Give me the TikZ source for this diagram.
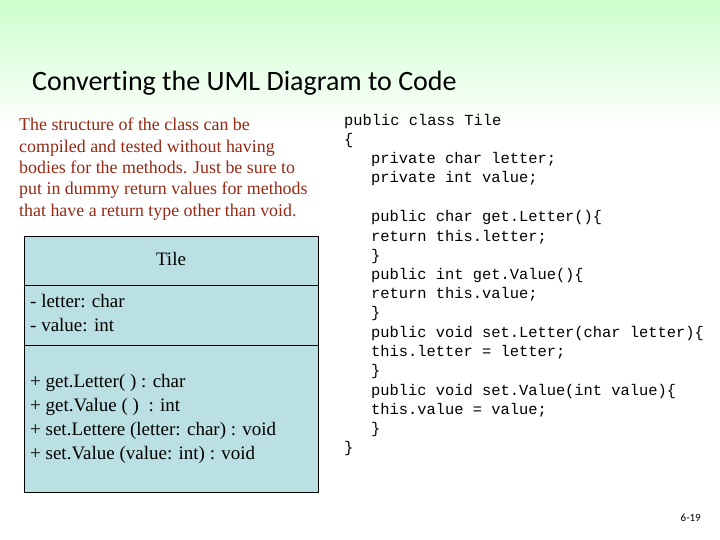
\documentclass[tikz,border=0pt]{standalone}
\usepackage{fontspec}
\setmainfont{Liberation Serif}
\setmonofont{Liberation Mono}
\newfontfamily\titlefont[Ligatures=NoCommon]{Carlito}
\usetikzlibrary{positioning}
\definecolor{bodyred}{RGB}{150,40,20}
\definecolor{umlfill}{RGB}{187,224,227}
\definecolor{topgreen}{RGB}{204,255,204}
\begin{document}
\begin{tikzpicture}[x=1pt,y=-1pt,
    code/.style={anchor=base west, font=\ttfamily\fontsize{15.4}{17}\selectfont, inner sep=0pt},
    member/.style={anchor=base west, font=\fontsize{19}{21}\selectfont, inner sep=0pt},
    intro/.style={anchor=north west, font=\fontsize{17.9}{21.3}\selectfont, text=bodyred, align=left, inner sep=0pt}
]
\useasboundingbox (0,0) rectangle (720,540);
% background band
\shade[top color=topgreen, bottom color=white] (0,0) rectangle (720,130);

% title
\node[anchor=base west, font=\titlefont\fontsize{28}{32}\selectfont, inner sep=0pt] (title) at (32,91) {Converting the UML Diagram to Code};

% explanation
\node[intro] (intro) at (19,118) {The structure of the class can be\\compiled and tested without having\\bodies for the methods.  Just be sure to\\put in dummy return values for methods\\that have a return type other than void.};

% UML class box
\draw[fill=umlfill] (24,236) rectangle (318,492);
\draw (24,285) -- (318,285);
\draw (24,345) -- (318,345);
\node[member, anchor=base] (name) at (171,265) {Tile};
\node[member] (attr1) at (30,307) {- letter: char};
\node[member] (attr2) at (30,331) {- value: int};
\node[member] (op1) at (30,387) {+ get.Letter( ) : char};
\node[member] (op2) at (30,411) {+ get.Value ( )\ \ : int};
\node[member] (op3) at (30,435) {+ set.Lettere (letter: char) : void};
\node[member] (op4) at (30,459) {+ set.Value (value: int) : void};

% code listing
\node[code] (c1) at (344,126) {public class Tile};
\node[code] (c2) at (344,145) {\{};
\node[code] (c3) at (371,164) {private char letter;};
\node[code] (c4) at (371,183) {private int value;};
\node[code] (c5) at (371,222) {public char get.Letter()\{};
\node[code] (c6) at (371,241) {return this.letter;};
\node[code] (c7) at (371,260) {\}};
\node[code] (c8) at (371,279) {public int get.Value()\{};
\node[code] (c9) at (371,298) {return this.value;};
\node[code] (c10) at (371,317) {\}};
\node[code] (c11) at (371,337) {public void set.Letter(char letter)\{};
\node[code] (c12) at (371,356) {this.letter = letter;};
\node[code] (c13) at (371,375) {\}};
\node[code] (c14) at (371,395) {public void set.Value(int value)\{};
\node[code] (c15) at (371,414) {this.value = value;};
\node[code] (c16) at (371,433) {\}};
\node[code] (c17) at (344,452) {\}};

% page number
\node[anchor=base east, font=\titlefont\fontsize{11}{13}\selectfont, inner sep=0pt] (page) at (701,521) {6-19};
\end{tikzpicture}
\end{document}
